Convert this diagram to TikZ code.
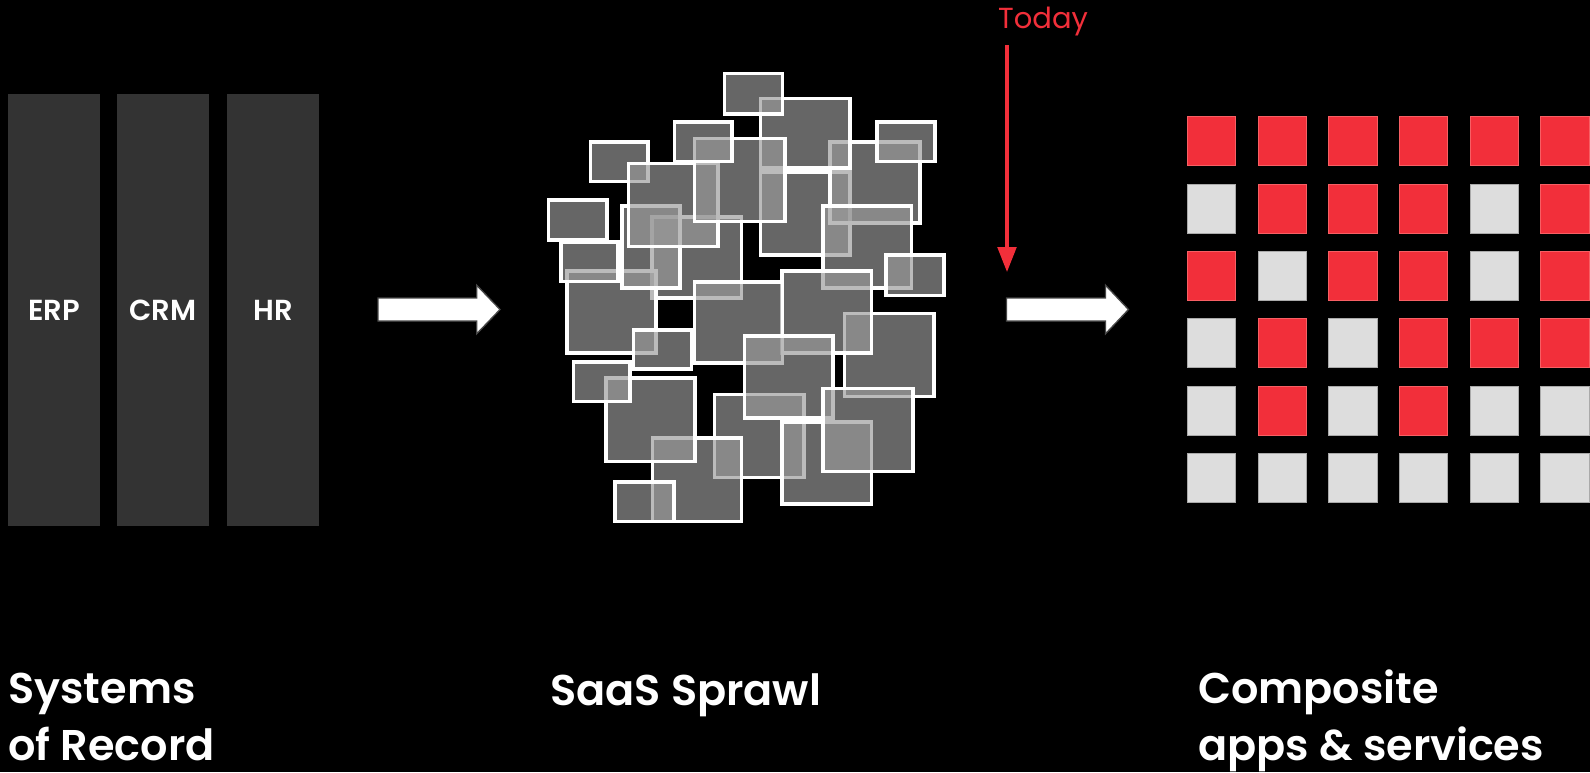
\documentclass[tikz,border=0pt]{standalone}
\usepackage{fontspec}
\setmainfont{Poppins}[BoldFont={Poppins SemiBold}]
\usetikzlibrary{arrows.meta}
\definecolor{redc}{RGB}{242,47,58}
\definecolor{redb}{RGB}{247,95,100}
\definecolor{grayc}{RGB}{221,221,221}
\definecolor{grayb}{RGB}{170,170,170}
\definecolor{colc}{RGB}{51,51,51}
\definecolor{sprawlc}{RGB}{153,153,153}
\newcommand\tileat[4]{\draw[tile] ({#1+1.8},{#2+1.8}) rectangle ({#3-1.8},{#4-1.8});}
\begin{document}
\begin{tikzpicture}[x=1pt,y=-1pt,
  col/.style={fill=colc, minimum width=92pt, minimum height=432pt, inner sep=0pt, text=white, font=\bfseries\fontsize{29}{34}\selectfont},
  sq/.style={minimum width=48.5pt, minimum height=49pt, inner sep=0pt, line width=1pt},
  Rq/.style={sq, fill=redc, draw=redb},
  Gq/.style={sq, fill=grayc, draw=grayb},
  tile/.style={fill=sprawlc, fill opacity=0.667, draw=white, line width=3.7pt},
  blockarrow/.style={fill=white, draw=black!72, line width=1.3pt},
  title/.style={text=white, font=\bfseries\fontsize{43}{56.7}\selectfont, align=left, anchor=base west, inner sep=0pt}]
\useasboundingbox (0,0) rectangle (1590,772);
\fill[black] (0,0) rectangle (1590,772);
% systems of record columns
\node[col] (erp) at (54,310) {ERP};
\node[col] (crm) at (163,310) {CRM};
\node[col] (hr) at (273,310) {HR};
% block arrows
\draw[blockarrow] (378,298) -- (476.7,298) -- (476.7,285.2) -- (500,309.5) -- (476.7,333.8) -- (476.7,321) -- (378,321) -- cycle;
\draw[blockarrow] (1006.5,298) -- (1105.5,298) -- (1105.5,285.2) -- (1128.5,309.5) -- (1105.5,333.8) -- (1105.5,321) -- (1006.5,321) -- cycle;
% SaaS sprawl tiles
\tileat{712.7}{392.7}{806}{479.3}
\tileat{650}{215}{743.3}{300}
\tileat{758.7}{170}{851.7}{256.7}
\tileat{828.3}{140}{921.7}{225}
\tileat{758.7}{96.7}{851.7}{170}
\tileat{588.7}{140}{650}{183.3}
\tileat{565}{269.3}{657.7}{355}
\tileat{620}{204}{681.7}{290}
\tileat{626.7}{161.7}{720}{248.3}
\tileat{692.7}{136.7}{786.7}{223.3}
\tileat{559.3}{240}{620}{283.3}
\tileat{546.7}{198.3}{609}{241.7}
\tileat{672.7}{120}{734}{163.3}
\tileat{722.7}{71.7}{784.3}{116}
\tileat{875}{120}{936.7}{163.3}
\tileat{821}{204.3}{913.3}{290}
\tileat{884.3}{253.3}{946}{297.3}
\tileat{842.7}{311.7}{936}{398.3}
\tileat{780}{269.3}{873.3}{355}
\tileat{692.7}{280}{784.3}{365}
\tileat{631.7}{328.3}{693.3}{370.7}
\tileat{650.7}{436}{743.3}{523.3}
\tileat{604}{376}{696.7}{463.3}
\tileat{571.7}{360}{631.7}{403.3}
\tileat{613.3}{480}{675.7}{523.3}
\tileat{742.7}{334}{835}{420}
\tileat{780}{420}{873.3}{506}
\tileat{821}{386.7}{915}{473.3}
% today marker
\coordinate (todaytop) at (1007,45);
\coordinate (todaytip) at (1007,272);
\draw[redc, line width=3.3pt, -{Triangle[width=18.7pt,length=25pt]}] (todaytop) -- (todaytip);
\node[text=redc, font=\fontsize{29}{34}\selectfont, anchor=base west, inner sep=0pt] (today) at (998,28) {Today};
% composite grid
\foreach \row [count=\r] in {{R,R,R,R,R,R},{G,R,R,R,G,R},{R,G,R,R,G,R},{G,R,G,R,R,R},{G,R,G,R,G,G},{G,G,G,G,G,G}} {
  \foreach \c [count=\k] in \row {
    \node[\c q] (g-\r-\k) at ({1187.3+24.25+(\k-1)*70.7},{116.7+24.5+(\r-1)*67.4}) {};
  }
}
% titles (base anchor = baseline of the last line)
\node[title] (sor) at (8,760) {Systems\\of Record};
\node[title] (saas) at (550,705) {SaaS Sprawl};
\node[title] (comp) at (1198,760) {Composite\\apps \& services};
\end{tikzpicture}
\end{document}
